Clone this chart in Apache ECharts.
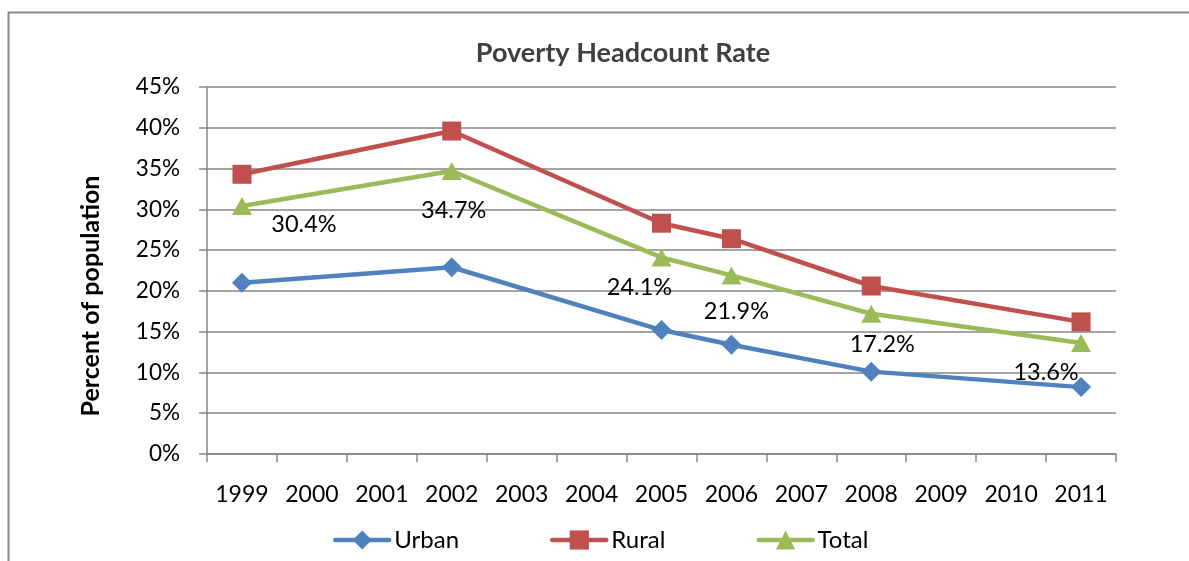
<!DOCTYPE html>
<html>
<head>
<meta charset="utf-8">
<script src="https://cdn.jsdelivr.net/npm/echarts@6/dist/echarts.min.js"></script>
<style>
html,body{margin:0;padding:0;background:#fff;}
#chart{width:1189px;height:561px;}
</style>
</head>
<body>
<div id="chart"></div>
<script>
const years = ['1999','2000','2001','2002','2003','2004','2005','2006','2007','2008','2009','2010','2011'];
const urban = [21.0, null, null, 22.9, null, null, 15.2, 13.4, null, 10.1, null, null, 8.2];
const rural = [34.3, null, null, 39.6, null, null, 28.3, 26.4, null, 20.6, null, null, 16.2];
const total = [30.4, null, null, 34.7, null, null, 24.1, 21.9, null, 17.2, null, null, 13.6];
const yTicks = [0, 5, 10, 15, 20, 25, 30, 35, 40, 45];

// label placement (style only)
const totalLabelOffsets = [[62,18],null,null,[2,39],null,null,[-22,30],[5,36],null,[11,31],null,null,[-35,29]];

const FONT = 'Lato';
const chart = echarts.init(document.getElementById('chart'));

const totalData = total.map((v, i) => {
  if (v == null) return null;
  return {
    value: v,
    label: { show: true, position: 'inside', offset: totalLabelOffsets[i] }
  };
});

chart.setOption({
  animation: false,
  title: {
    text: 'Poverty Headcount Rate',
    left: 618, top: 35, textAlign: 'center',
    textStyle: { fontFamily: FONT, fontWeight: 'bold', fontSize: 27, color: '#404040' }
  },
  graphic: [
    { type: 'rect', shape: { x: 8.5, y: 12.5, width: 1300, height: 700 },
      style: { fill: 'none', stroke: '#8a8a8a', lineWidth: 2 }, silent: true },
    { type: 'text', x: 91, y: 296, rotation: Math.PI / 2,
      style: { text: 'Percent of population', fontFamily: FONT, fontWeight: 'bold', fontSize: 25,
               fill: '#000', align: 'center', verticalAlign: 'middle' } }
  ],
  legend: {
    left: 333, top: 528, padding: 0,
    itemWidth: 54, itemHeight: 24, itemGap: 91,
    lineStyle: { width: 4.5, cap: 'round' },
    textStyle: { fontFamily: FONT, fontSize: 24, color: '#000' },
    data: ['Urban', 'Rural', 'Total']
  },
  grid: { left: 207, right: 73, top: 87, bottom: 107, containLabel: false },
  xAxis: {
    type: 'category', data: years, boundaryGap: true,
    axisLine: { lineStyle: { color: '#868686', width: 1.5 } },
    axisTick: { show: true, interval: 0, length: 8, lineStyle: { color: '#868686', width: 1.5 } },
    axisLabel: { interval: 0, margin: 29, fontFamily: FONT, fontSize: 23, color: '#000' },
    splitLine: { show: false }
  },
  yAxis: {
    type: 'value', min: yTicks[0], max: yTicks[yTicks.length - 1], interval: 5,
    axisLine: { show: true, lineStyle: { color: '#868686', width: 1.5 } },
    axisTick: { show: true, length: 8, lineStyle: { color: '#868686', width: 1.5 } },
    axisLabel: { formatter: '{value}%', margin: 27, fontFamily: FONT, fontSize: 22.5, color: '#000' },
    splitLine: { lineStyle: { color: '#868686', width: 1.5 } }
  },
  series: [
    { name: 'Urban', type: 'line', data: urban, connectNulls: true,
      symbol: 'diamond', symbolSize: [20, 20],
      lineStyle: { color: '#4F81BD', width: 4.5 }, itemStyle: { color: '#4F81BD' } },
    { name: 'Rural', type: 'line', data: rural, connectNulls: true,
      symbol: 'rect', symbolSize: 19,
      lineStyle: { color: '#C0504D', width: 4.5 }, itemStyle: { color: '#C0504D' } },
    { name: 'Total', type: 'line', data: totalData, connectNulls: true,
      symbol: 'triangle', symbolSize: [20, 18],
      lineStyle: { color: '#9BBB59', width: 4.5 }, itemStyle: { color: '#9BBB59' },
      label: { show: true, formatter: p => p.value + '%', fontFamily: FONT, fontSize: 23.5, color: '#000' } }
  ]
});
</script>
</body>
</html>
